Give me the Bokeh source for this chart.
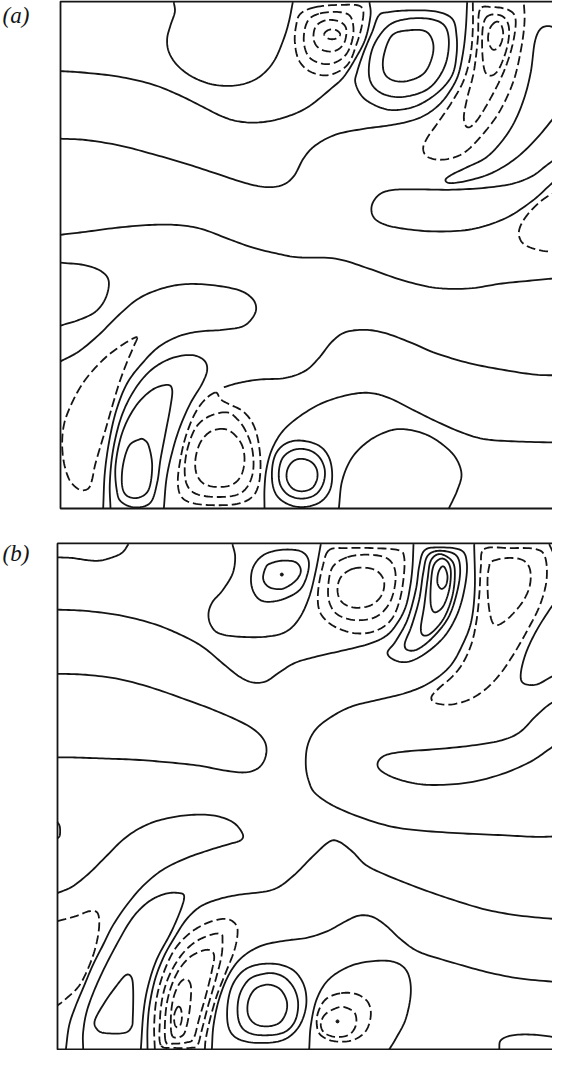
import numpy as np
from bokeh.plotting import figure
from bokeh.layouts import column
from bokeh.models import Range1d, BoxAnnotation, Label
from bokeh.embed import file_html
from bokeh.resources import INLINE

# Domain of each panel (grid units; the box continues past the cropped right edge)
PANEL_H = 1530
PANEL_W = 1700

# ---------------- Panel (a): traced contour lines (u, v) ----------------
A_C1 = [(340,1528),(343,1498),(330,1458),(320,1418),(325,1378),(350,1338),(395,1303),(455,1280),(520,1276),(575,1290),(615,1318),(645,1358),(670,1418),(685,1468),(697,1528)]
A_C2 = [(0,1320),(75,1315),(175,1303),(275,1280),(355,1248),(425,1213),(485,1183),(535,1168),(595,1165),(665,1178),(740,1210),(815,1270),(850,1303),(885,1358),(915,1418),(930,1488),(927,1528)]
A_D1_R1 = [(765,1513),(720,1493),(707,1458),(703,1408),(715,1353),(750,1318),(805,1308),(860,1338),(887,1398),(905,1463),(903,1513),(845,1520),(765,1513)]
A_D1_R2 = [(775,1493),(740,1468),(730,1408),(750,1358),(805,1341),(855,1368),(878,1428),(871,1483),(835,1498),(775,1493)]
A_D1_R3 = [(795,1473),(765,1453),(760,1413),(780,1386),(820,1380),(850,1403),(857,1448),(835,1470),(795,1473)]
A_D1_R4 = [(791,1431),(800,1442),(815,1446),(830,1442),(839,1431),(830,1420),(815,1416),(800,1420),(791,1431)]
A_S_OUT = [(955,1488),(935,1438),(910,1378),(890,1318),(885,1283),(910,1238),(965,1208),(1015,1203),(1075,1218),(1135,1258),(1175,1308),(1188,1368),(1188,1428),(1175,1478),(1125,1500),(1045,1503),(985,1498),(955,1488)]
A_S_MID = [(1045,1478),(985,1458),(940,1398),(925,1328),(935,1278),(975,1248),(1035,1243),(1105,1268),(1150,1328),(1165,1398),(1155,1453),(1115,1476),(1045,1478)]
A_S_IN = [(1045,1443),(995,1428),(970,1368),(970,1318),(995,1293),(1040,1290),(1090,1313),(1115,1363),(1117,1408),(1095,1440),(1045,1443)]
A_C3 = [(0,1116),(75,1112),(175,1096),(275,1070),(375,1041),(475,1008),(555,982),(615,970),(665,976),(700,1003),(730,1058),(765,1096),(825,1128),(905,1145),(985,1156),(1045,1168),(1090,1185),(1130,1213),(1162,1250),(1192,1305),(1208,1378),(1216,1450),(1220,1528)]
A_D2_R1 = [(1237,1528),(1237,1448),(1230,1368),(1210,1293),(1175,1228),(1135,1168),(1100,1118),(1088,1085),(1103,1060),(1150,1053),(1210,1073),(1270,1133),(1320,1203),(1360,1293),(1382,1388),(1392,1468),(1390,1528)]
A_D2_R2 = [(1258,1505),(1252,1418),(1240,1318),(1220,1238),(1210,1178),(1222,1150),(1250,1172),(1293,1243),(1333,1326),(1358,1408),(1365,1478),(1343,1505),(1295,1513),(1258,1505)]
A_D2_R3 = [(1285,1488),(1268,1458),(1265,1388),(1272,1323),(1290,1306),(1315,1326),(1340,1393),(1345,1453),(1325,1486),(1285,1488)]
A_D2_R4 = [(1305,1468),(1288,1448),(1283,1413),(1297,1385),(1318,1396),(1328,1433),(1320,1463),(1305,1468)]
A_T1 = [(1499,1436),(1470,1455),(1441,1448),(1423,1408),(1411,1318),(1391,1238),(1360,1163),(1320,1103),(1275,1058),(1220,1030),(1175,1008),(1155,992),(1170,982),(1225,990),(1295,1013),(1365,1056),(1425,1113),(1475,1173),(1499,1203)]
A_F1 = [(1499,1066),(1455,1033),(1415,1003),(1355,980),(1275,968),(1175,962),(1075,963),(1005,962),(960,950),(935,918),(937,883),(965,860),(1025,845),(1125,836),(1235,843),(1335,876),(1415,928),(1465,973),(1499,1003)]
A_D3 = [(1499,960),(1455,938),(1415,903),(1385,863),(1375,828),(1390,798),(1435,780),(1499,772)]
A_C4 = [(0,826),(75,835),(175,848),(275,856),(355,855),(425,843),(505,813),(575,788),(655,768),(715,758),(825,754),(925,724),(1025,689),(1125,666),(1225,664),(1325,679),(1425,689),(1499,696)]
A_L1 = [(0,742),(75,734),(125,714),(145,684),(135,634),(105,594),(55,569),(0,552)]
A_C5 = [(0,444),(55,474),(115,524),(175,584),(235,634),(305,664),(375,677),(455,674),(535,659),(575,634),(587,604),(575,574),(545,549),(485,539),(415,534),(355,520),(295,488),(245,438),(200,378),(168,298),(147,208),(133,108),(128,0)]
A_D4 = [(230,516),(220,490),(198,438),(176,378),(155,308),(135,238),(117,178),(103,128),(95,88),(85,62),(65,55),(45,65),(25,90),(10,140),(5,200),(12,260),(35,320),(65,375),(100,420),(140,460),(180,490),(212,510),(230,516)]
A_B1_OUT = [(150,0),(148,78),(158,178),(183,278),(222,358),(272,418),(332,453),(392,463),(430,448),(440,418),(424,375),(390,318),(358,245),(335,170),(318,90),(310,0)]
A_B1_MID = [(170,48),(165,128),(185,228),(225,308),(275,358),(320,373),(335,358),(330,308),(315,228),(300,148),(290,78),(270,18),(225,3),(185,18),(170,48)]
A_B1_IN = [(235,208),(205,188),(187,128),(185,68),(200,38),(235,33),(265,58),(275,128),(265,188),(250,208),(235,208)]
A_D5_OUT = [(465,350),(430,325),(400,280),(375,215),(360,150),(352,85),(360,40),(390,18),(455,10),(530,14),(575,35),(595,75),(600,140),(592,210),(575,260),(545,295),(505,315),(480,330),(465,350)]
A_D5_MID = [(500,290),(450,280),(410,250),(385,195),(373,130),(378,75),(405,45),(460,35),(525,40),(560,65),(578,115),(575,180),(555,235),(530,270),(500,290)]
A_D5_IN = [(490,240),(450,232),(420,200),(405,150),(408,105),(430,75),(470,65),(515,72),(542,100),(552,145),(545,190),(520,225),(490,240)]
A_C6 = [(490,366),(535,379),(595,389),(675,394),(735,416),(775,454),(815,504),(855,532),(915,539),(975,529),(1055,499),(1125,469),(1225,439),(1325,419),(1425,404),(1499,402)]
A_C7 = [(612,0),(612,60),(618,120),(635,180),(668,235),(720,280),(785,318),(860,342),(925,349),(985,334),(1055,299),(1125,264),(1205,229),(1275,209),(1375,202),(1499,199)]
A_B3_OUT = [(722,205),(680,198),(650,172),(636,130),(636,75),(652,35),(690,10),(735,5),(780,20),(808,55),(815,105),(805,155),(775,190),(722,205)]
A_B3_MID = [(722,180),(690,173),(665,150),(655,110),(660,70),(685,40),(725,30),(765,42),(788,75),(793,115),(780,150),(755,172),(722,180)]
A_B3_IN = [(720,150),(695,140),(680,115),(680,85),(697,60),(725,52),(755,62),(770,90),(768,120),(750,142),(720,150)]
A_B4 = [(835,0),(845,84),(875,154),(925,204),(985,234),(1035,239),(1095,224),(1145,194),(1185,154),(1203,104),(1190,54),(1165,0)]

A_SOLID = [A_C1, A_C2, A_S_OUT, A_S_MID, A_S_IN, A_C3, A_T1, A_F1, A_C4, A_L1, A_C5,
           A_B1_OUT, A_B1_MID, A_B1_IN, A_C6, A_C7, A_B3_OUT, A_B3_MID, A_B3_IN, A_B4]
A_DASHED = [A_D1_R1, A_D1_R2, A_D1_R3, A_D1_R4, A_D2_R1, A_D2_R2, A_D2_R3, A_D2_R4,
            A_D3, A_D4, A_D5_OUT, A_D5_MID, A_D5_IN]
A_DOTS = []

# ---------------- Panel (b): traced contour lines (u, v) ----------------
B_C1 = [(0,1488),(45,1486),(85,1480),(125,1478),(165,1488),(195,1503),(213,1528)]
B_C2 = [(525,1528),(533,1488),(525,1438),(495,1388),(465,1353),(453,1318),(460,1283),(485,1258),(545,1248),(625,1248),(685,1263),(725,1303),(755,1368),(775,1448),(790,1528)]
B_S1_OUT = [(585,1453),(583,1398),(610,1358),(665,1358),(725,1388),(750,1438),(752,1483),(725,1508),(665,1510),(615,1493),(585,1453)]
B_S1_IN = [(625,1458),(617,1423),(635,1398),(675,1393),(715,1418),(730,1448),(715,1473),(675,1478),(640,1470),(625,1458)]
B_D1_OUT = [(815,1510),(795,1458),(782,1388),(784,1333),(805,1298),(845,1272),(900,1258),(955,1266),(1000,1298),(1025,1353),(1038,1423),(1040,1488),(1022,1510),(945,1516),(870,1516),(815,1510)]
B_D1_MID = [(868,1488),(825,1458),(812,1398),(817,1348),(843,1313),(897,1298),(955,1308),(995,1348),(1013,1408),(1010,1458),(983,1488),(925,1496),(868,1488)]
B_D1_IN = [(885,1453),(850,1428),(840,1388),(853,1353),(890,1336),(940,1343),(972,1373),(980,1413),(963,1443),(930,1456),(885,1453)]
B_C4 = [(0,1330),(85,1326),(185,1313),(285,1288),(365,1256),(435,1218),(495,1168),(545,1128),(585,1110),(625,1113),(665,1140),(715,1170),(785,1190),(850,1205),(930,1225),(985,1250),(1020,1290),(1045,1340),(1058,1400),(1065,1460),(1068,1528)]
B_S2_R5 = [(1140,1518),(1100,1508),(1085,1460),(1075,1390),(1050,1300),(1015,1235),(990,1200),(1010,1178),(1050,1172),(1100,1195),(1160,1248),(1200,1318),(1222,1398),(1228,1470),(1210,1510),(1140,1518)]
B_S2_R4 = [(1145,1508),(1110,1492),(1097,1440),(1085,1360),(1062,1280),(1042,1228),(1050,1208),(1080,1210),(1125,1245),(1172,1305),(1198,1380),(1208,1450),(1195,1495),(1145,1508)]
B_S2_R3 = [(1148,1498),(1120,1478),(1110,1420),(1100,1340),(1090,1275),(1098,1252),(1122,1260),(1158,1302),(1183,1365),(1192,1430),(1185,1475),(1148,1498)]
B_S2_R2 = [(1150,1484),(1128,1462),(1120,1405),(1120,1345),(1132,1322),(1157,1340),(1175,1390),(1180,1445),(1170,1475),(1150,1484)]
B_S2_R1 = [(1153,1460),(1142,1440),(1140,1410),(1151,1393),(1165,1403),(1170,1430),(1163,1455),(1153,1460)]
B_C3 = [(1250,1528),(1252,1398),(1242,1298),(1217,1228),(1177,1158),(1115,1108),(1045,1078),(965,1058),(885,1038),(825,1008),(775,968),(750,918),(745,858),(755,808),(775,773),(835,733),(935,693),(1035,668),(1185,655),(1335,648),(1435,643),(1509,645)]
B_D2_OUT = [(1280,1513),(1355,1516),(1435,1513),(1463,1488),(1467,1418),(1447,1343),(1410,1268),(1370,1198),(1330,1138),(1285,1090),(1235,1058),(1180,1043),(1133,1048),(1122,1066),(1145,1093),(1185,1128),(1217,1170),(1243,1230),(1258,1303),(1266,1383),(1270,1458),(1280,1513)]
B_D2_IN = [(1303,1476),(1350,1486),(1395,1480),(1417,1453),(1417,1403),(1395,1353),(1355,1306),(1320,1283),(1303,1296),(1293,1348),(1290,1418),(1295,1460),(1303,1476)]
B_T1 = [(1509,1373),(1475,1328),(1435,1263),(1405,1198),(1390,1138),(1397,1108),(1435,1103),(1475,1123),(1509,1143)]
B_TR = [(1475,1528),(1490,1495),(1505,1460),(1509,1450)]
B_F1 = [(1509,1060),(1475,1043),(1435,1008),(1385,958),(1325,933),(1235,918),(1135,908),(1035,900),(980,888),(960,863),(977,838),(1035,813),(1115,800),(1225,806),(1325,830),(1415,868),(1475,908),(1509,933)]
B_ARC = [(1509,880),(1503,858),(1509,836)]
B_C5 = [(0,1136),(85,1133),(185,1120),(285,1093),(385,1058),(465,1028),(545,993),(595,963),(623,928),(625,888),(605,853),(565,838),(505,843),(425,858),(335,868),(235,876),(135,880),(45,883),(0,883)]
B_LOOP = [(0,688),(7,673),(7,648),(0,638)]
B_C6 = [(0,473),(45,493),(95,533),(145,583),(195,633),(245,668),(305,693),(385,708),(465,708),(525,688),(555,653),(550,633),(515,621),(455,603),(385,578),(315,543),(255,493),(205,433),(165,373),(135,313),(105,253),(80,193),(55,133),(35,73),(25,0)]
B_HOOK = [(0,388),(55,403),(95,418),(120,413),(125,373),(115,313),(95,253),(65,193),(25,153),(0,133)]
B_U = [(77,0),(77,53),(90,123),(125,213),(175,313),(225,398),(275,448),(325,471),(365,473),(380,463),(370,423),(340,353),(298,273),(272,193),(258,113),(250,0)]
B_TRI = [(112,88),(140,140),(175,190),(205,225),(222,218),(227,180),(226,100),(222,68),(200,50),(140,50),(118,62),(112,88)]
B_C7 = [(270,0),(270,63),(276,133),(293,213),(320,283),(355,345),(388,395),(430,433),(485,455),(545,468),(645,483),(705,523),(765,583),(815,628),(845,628),(885,598),(925,558),(985,528),(1085,488),(1185,453),(1285,423),(1385,405),(1509,393)]
B_D3_OUT = [(292,0),(290,73),(297,153),(317,228),(350,300),(395,350),(450,383),(505,395),(535,378),(540,348),(530,298),(505,233),(478,163),(458,93),(445,33),(442,0)]
B_D3_R2 = [(310,13),(307,83),(315,158),(335,223),(370,283),(410,323),(455,345),(490,350),(495,330),(492,283),(475,213),(452,133),(434,63),(420,13),(400,5),(350,5),(310,13)]
B_D3_R3 = [(325,23),(323,93),(333,163),(357,228),(390,273),(425,295),(455,301),(470,283),(462,233),(445,163),(425,93),(408,33),(385,21),(350,18),(325,23)]
B_D3_R4 = [(345,40),(340,93),(347,153),(365,198),(385,213),(400,193),(398,133),(388,73),(375,42),(345,40)]
B_D3_R5 = [(360,128),(350,103),(353,73),(365,68),(373,93),(370,123),(360,128)]
B_C8 = [(463,0),(468,73),(485,153),(515,228),(555,280),(615,315),(690,330),(750,338),(810,358),(865,388),(905,405),(945,401),(985,375),(1030,333),(1085,295),(1185,263),(1285,235),(1385,215),(1509,203)]
B_S3_OUT = [(610,258),(560,240),(525,195),(510,133),(513,68),(540,33),(600,20),(675,28),(722,66),(745,126),(742,186),(715,233),(670,256),(610,258)]
B_S3_MID = [(615,228),(575,212),(548,170),(540,120),(548,75),(575,50),(625,43),(680,52),(712,85),(722,135),(712,180),(685,215),(650,230),(615,228)]
B_S3_IN = [(620,195),(590,180),(572,145),(572,105),(592,78),(628,70),(665,80),(685,110),(688,145),(672,178),(648,193),(620,195)]
B_B4 = [(755,0),(760,73),(778,153),(815,213),(880,253),(955,268),(1015,263),(1050,233),(1060,173),(1045,93),(1015,33),(995,0)]
B_D4_OUT = [(848,170),(805,152),(782,113),(778,73),(790,43),(830,25),(885,28),(925,56),(940,105),(930,145),(895,168),(848,170)]
B_D4_IN = [(845,128),(805,108),(790,78),(800,51),(835,38),(875,45),(895,73),(893,108),(870,125),(845,128)]
B_LOBE = [(1325,0),(1330,28),(1365,43),(1425,45),(1485,38),(1509,33)]

B_SOLID = [B_C1, B_C2, B_S1_OUT, B_S1_IN, B_C4, B_S2_R5, B_S2_R4, B_S2_R3, B_S2_R2, B_S2_R1,
           B_C3, B_T1, B_TR, B_F1, B_ARC, B_C5, B_LOOP, B_C6, B_U, B_TRI, B_C7, B_C8,
           B_S3_OUT, B_S3_MID, B_S3_IN, B_B4, B_LOBE]
B_DASHED = [B_D1_OUT, B_D1_MID, B_D1_IN, B_D2_OUT, B_D2_IN, B_HOOK,
            B_D3_OUT, B_D3_R2, B_D3_R3, B_D3_R4, B_D3_R5, B_D4_OUT, B_D4_IN]
B_DOTS = [(673,1436),(840,85)]

INK = "#151515"


def smooth(pts, n=10):
    """Catmull-Rom path through the traced vertices (closed if first == last)."""
    P = np.asarray(pts, dtype=float)
    closed = len(P) > 3 and np.allclose(P[0], P[-1])
    if closed:
        P = P[:-1]
        ext = np.vstack([P[-1], P, P[0], P[1]])
    else:
        ext = np.vstack([2 * P[0] - P[1], P, 2 * P[-1] - P[-2]])
    t = np.linspace(0, 1, n, endpoint=False)[:, None]
    segs = []
    for i in range(1, len(ext) - 2):
        p0, p1, p2, p3 = ext[i - 1], ext[i], ext[i + 1], ext[i + 2]
        segs.append(0.5 * (2 * p1 + (-p0 + p2) * t + (2 * p0 - 5 * p1 + 4 * p2 - p3) * t ** 2
                           + (-p0 + 3 * p1 - 3 * p2 + p3) * t ** 3))
    segs.append(ext[-2][None, :])
    S = np.vstack(segs)
    return list(S[:, 0]), list(S[:, 1])


def panel(solid, dashed, dots, label, label_y, x_range, y_range, height):
    p = figure(width=552, height=height, x_range=Range1d(*x_range), y_range=Range1d(*y_range),
               output_backend="svg", toolbar_location=None, x_axis_type=None, y_axis_type=None,
               min_border=0, outline_line_color=None, background_fill_color="white")
    p.grid.visible = False
    xs, ys = zip(*[smooth(c) for c in solid])
    p.multi_line(xs=list(xs), ys=list(ys), line_color=INK, line_width=1.8, line_join="round")
    xs, ys = zip(*[smooth(c) for c in dashed])
    p.multi_line(xs=list(xs), ys=list(ys), line_color=INK, line_width=1.8, line_dash="9 4")
    if dots:
        dx, dy = zip(*dots)
        p.scatter(x=list(dx), y=list(dy), size=3, color=INK)
    p.add_layout(BoxAnnotation(left=0, right=PANEL_W, bottom=0, top=PANEL_H,
                               fill_alpha=0, line_color=INK, line_alpha=1.0, line_width=1.8))
    p.add_layout(Label(x=x_range[0] + 6, y=label_y, text=label, text_font="Liberation Serif",
                       text_font_style="italic", text_font_size="23px", text_color=INK,
                       text_baseline="middle", text_align="left"))
    return p


pa = panel(A_SOLID, A_DASHED, A_DOTS, "(a)", 1488, (-180, 1476), (-6, 1533), 510)
pb = panel(B_SOLID, B_DASHED, B_DOTS, "(b)", 1500, (-171, 1485), (-3, 1545), 512)

layout = column(pa, pb, spacing=28)
open("out.html", "w").write(file_html(layout, INLINE))
